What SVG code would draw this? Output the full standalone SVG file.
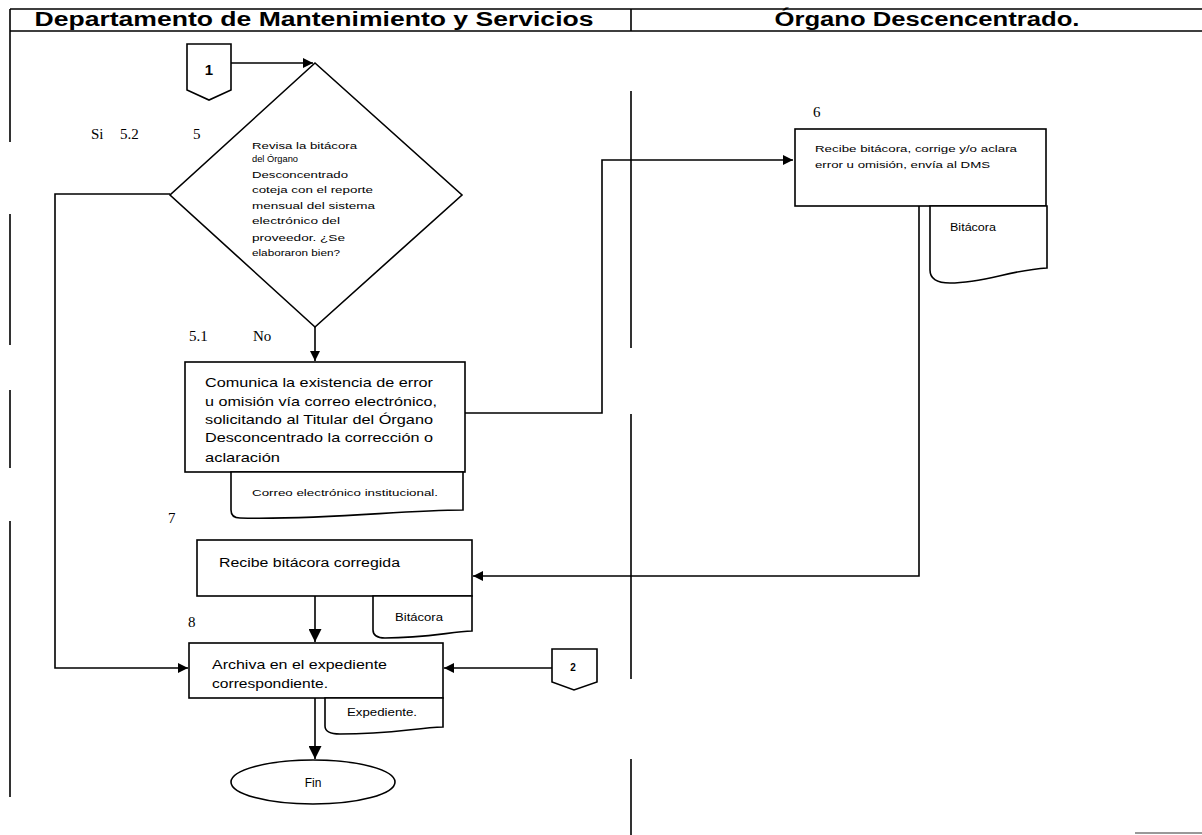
<svg xmlns="http://www.w3.org/2000/svg" width="1202" height="835" viewBox="0 0 1202 835">
  <style>
    .ln { fill: none; stroke: #000; stroke-width: 1.6; }
    .shape { fill: #fff; stroke: #000; stroke-width: 1.6; }
    .hdr { font-family: "Liberation Sans", Arial, sans-serif; font-weight: bold; font-size: 20px; fill: #000; }
    .t { font-family: "Liberation Sans", Arial, sans-serif; fill: #000; }
    .num { font-family: "Liberation Serif", "Times New Roman", serif; font-size: 15px; fill: #000; }
  </style>
  <defs>
    <marker id="arr" viewBox="0 0 10 10" refX="10" refY="5" markerWidth="10" markerHeight="10" markerUnits="userSpaceOnUse" orient="auto">
      <path d="M0,0 L10,5 L0,10 Z" fill="#000"/>
    </marker>
    <marker id="arrBig" viewBox="0 0 10 10" refX="10" refY="5" markerWidth="13" markerHeight="13" markerUnits="userSpaceOnUse" orient="auto">
      <path d="M0,0 L10,5 L0,10 Z" fill="#000"/>
    </marker>
  </defs>

  <rect width="1202" height="835" fill="#fff"/>

  <!-- swimlane header and lane borders -->
  <g id="lanes">
    <path class="ln" stroke-width="2" d="M10,9 H1202 M10,31 H1202 M10,9 V31 M631,9 V31"/>
    <text class="hdr" x="314" y="26" text-anchor="middle" textLength="559" lengthAdjust="spacingAndGlyphs">Departamento de Mantenimiento y Servicios</text>
    <text class="hdr" x="927" y="26" text-anchor="middle" textLength="305" lengthAdjust="spacingAndGlyphs">Órgano Descencentrado.</text>
    <path class="ln" d="M10,31 V142 M10,214 V345 M10,390 V468 M10,521 V797"/>
    <path class="ln" d="M631,91 V348 M631,414 V679 M631,759 V835"/>
    <path d="M1135,833 H1202" stroke="#777" stroke-width="1.5"/>
  </g>

  <!-- step labels -->
  <g id="labels">
    <text class="num" x="91" y="139">Si</text>
    <text class="num" x="120" y="139">5.2</text>
    <text class="num" x="193" y="139">5</text>
    <text class="num" x="189" y="341">5.1</text>
    <text class="num" x="253" y="341">No</text>
    <text class="num" x="813" y="117">6</text>
    <text class="num" x="168" y="523">7</text>
    <text class="num" x="188" y="627">8</text>
  </g>

  <!-- connectors -->
  <g id="connectors">
    <path class="ln" marker-end="url(#arr)" d="M231,63 H313"/>
    <path class="ln" marker-end="url(#arr)" d="M315,327 V361"/>
    <path class="ln" marker-end="url(#arr)" d="M170,194 H55 V668 H188"/>
    <path class="ln" marker-end="url(#arr)" d="M465,413 H602 V160 H793"/>
    <path class="ln" marker-end="url(#arr)" d="M919,206 V576 H473"/>
    <path class="ln" stroke-width="2" marker-end="url(#arrBig)" d="M315,596 V642"/>
    <path class="ln" marker-end="url(#arr)" d="M552,668 H444"/>
    <path class="ln" stroke-width="3" marker-end="url(#arrBig)" d="M315,698 V759"/>
  </g>

  <!-- off-page connector 1 -->
  <g id="n-conn1">
    <path class="shape" d="M187,44 H231 V90 L209,100 L187,90 Z"/>
    <text class="t" x="209" y="75" font-size="15" font-weight="bold" text-anchor="middle">1</text>
  </g>

  <!-- step 5: decision -->
  <g id="n5">
    <path class="shape" d="M315,63 L462,195 L315,327 L170,195 Z"/>
    <g class="t" font-size="9.5">
      <text x="252" y="149" textLength="105" lengthAdjust="spacingAndGlyphs">Revisa la bitácora</text>
      <text x="252" y="162" textLength="46" lengthAdjust="spacingAndGlyphs">del Órgano</text>
      <text x="252" y="178" textLength="96" lengthAdjust="spacingAndGlyphs">Desconcentrado</text>
      <text x="252" y="193" textLength="121" lengthAdjust="spacingAndGlyphs">coteja con el reporte</text>
      <text x="252" y="209" textLength="123" lengthAdjust="spacingAndGlyphs">mensual del sistema</text>
      <text x="252" y="224" textLength="88" lengthAdjust="spacingAndGlyphs">electrónico del</text>
      <text x="252" y="241" textLength="93" lengthAdjust="spacingAndGlyphs">proveedor. ¿Se</text>
      <text x="252" y="256" textLength="88" lengthAdjust="spacingAndGlyphs">elaboraron bien?</text>
    </g>
  </g>

  <!-- step 5.1 -->
  <g id="n51">
    <rect class="shape" x="185" y="362" width="280" height="110"/>
    <g class="t" font-size="13">
      <text x="205" y="387" textLength="228" lengthAdjust="spacingAndGlyphs">Comunica la existencia de error</text>
      <text x="205" y="406" textLength="232" lengthAdjust="spacingAndGlyphs">u omisión vía correo electrónico,</text>
      <text x="205" y="424" textLength="228" lengthAdjust="spacingAndGlyphs">solicitando al Titular del Órgano</text>
      <text x="205" y="442" textLength="228" lengthAdjust="spacingAndGlyphs">Desconcentrado la corrección o</text>
      <text x="205" y="462" textLength="75" lengthAdjust="spacingAndGlyphs">aclaración</text>
    </g>
  </g>
  <g id="d51">
    <path class="shape" d="M231,472 H463 V510 C400,510 330,520 240,518 Q231,518 231,510 Z"/>
    <text class="t" x="252" y="496" font-size="9" textLength="186" lengthAdjust="spacingAndGlyphs">Correo electrónico institucional.</text>
  </g>

  <!-- step 6 -->
  <g id="n6">
    <rect class="shape" x="795" y="129" width="251" height="77"/>
    <g class="t" font-size="9">
      <text x="815" y="152" textLength="202" lengthAdjust="spacingAndGlyphs">Recibe bitácora, corrige y/o aclara</text>
      <text x="815" y="168" textLength="175" lengthAdjust="spacingAndGlyphs">error u omisión, envía al DMS</text>
    </g>
  </g>
  <g id="d6">
    <path class="shape" d="M930,206 H1047 V268 C1010,270 985,283 950,283 Q930,283 930,270 Z"/>
    <text class="t" x="950" y="231" font-size="10" textLength="46" lengthAdjust="spacingAndGlyphs">Bitácora</text>
  </g>

  <!-- step 7 -->
  <g id="n7">
    <rect class="shape" x="197" y="540" width="275" height="56"/>
    <text class="t" x="219" y="567" font-size="12" textLength="181" lengthAdjust="spacingAndGlyphs">Recibe bitácora corregida</text>
  </g>
  <g id="d7">
    <path class="shape" d="M373,596 H472 V631 C450,632 425,638 385,638 Q373,638 373,630 Z"/>
    <text class="t" x="395" y="621" font-size="10" textLength="48" lengthAdjust="spacingAndGlyphs">Bitácora</text>
  </g>

  <!-- step 8 -->
  <g id="n8">
    <rect class="shape" x="189" y="643" width="254" height="55"/>
    <g class="t" font-size="13">
      <text x="212" y="669" textLength="175" lengthAdjust="spacingAndGlyphs">Archiva en el expediente</text>
      <text x="212" y="688" textLength="116" lengthAdjust="spacingAndGlyphs">correspondiente.</text>
    </g>
  </g>
  <g id="d8">
    <path class="shape" d="M325,698 H443 V727 C415,728 390,734 340,734 Q325,734 325,726 Z"/>
    <text class="t" x="347" y="716" font-size="10" textLength="70" lengthAdjust="spacingAndGlyphs">Expediente.</text>
  </g>

  <!-- off-page connector 2 -->
  <g id="n-conn2">
    <path class="shape" d="M552,649 H597 V682 L574,690 L552,682 Z"/>
    <text class="t" x="573" y="671" font-size="10" font-weight="bold" text-anchor="middle">2</text>
  </g>

  <!-- end -->
  <g id="n-fin">
    <ellipse class="shape" cx="313" cy="782" rx="82" ry="22"/>
    <text class="t" x="313" y="787" font-size="12" text-anchor="middle">Fin</text>
  </g>
</svg>
